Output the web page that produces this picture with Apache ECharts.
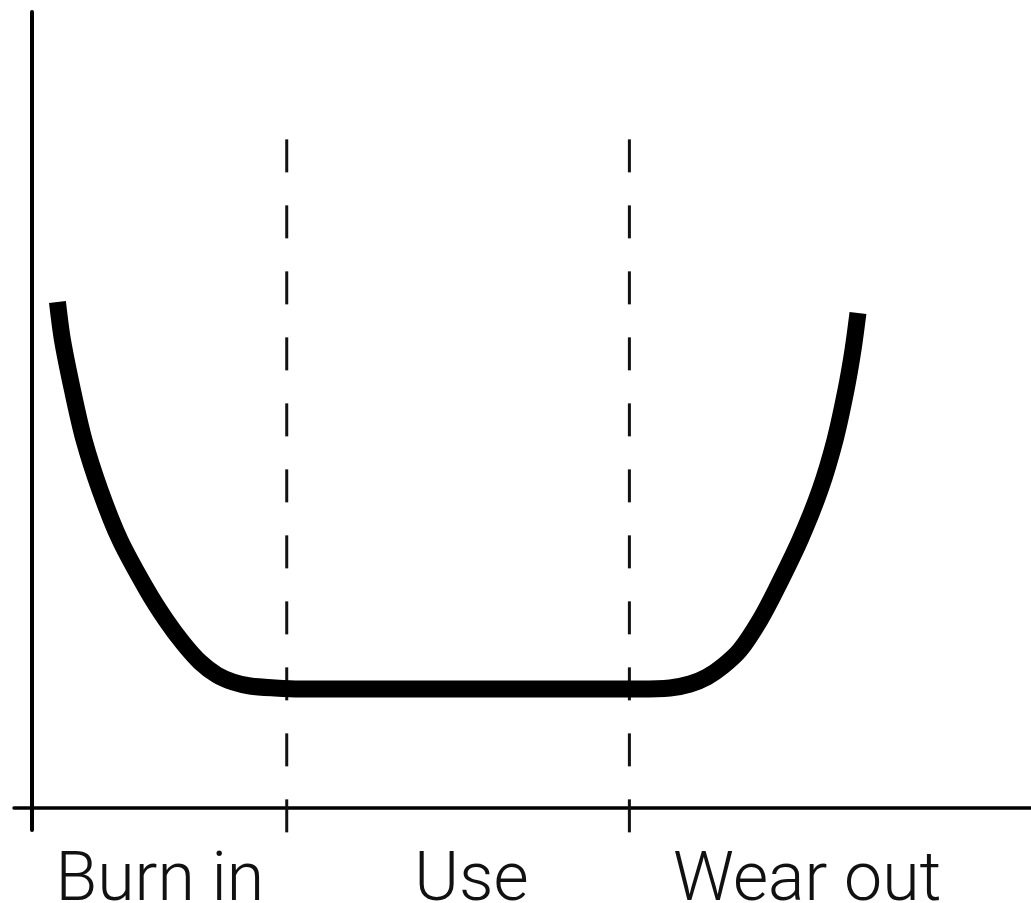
<!DOCTYPE html>
<html>
<head>
<meta charset="utf-8">
<script src="https://cdn.jsdelivr.net/npm/echarts@6/dist/echarts.min.js"></script>
<style>
html,body{margin:0;padding:0;background:#fff;}
#chart{width:1031px;height:903px;}
</style>
</head>
<body>
<div id="chart"></div>
<script>
// Phase labels and their positions along the time axis
const phaseLabels = ['Burn in', 'Use', 'Wear out'];
const phaseLabelPos = [12.8, 44.0, 77.6];
// Phase boundaries (dashed lines)
const phaseBounds = [25.5, 59.8];
const boundTop = 84.0;
const boundBottom = -3.4;
// Bathtub curve (time, failure rate)
const curveTime = [2.55, 3.05, 4.05, 5.21, 6.81, 8.81, 11.51, 13.41, 15.12, 16.82, 18.52, 20.12, 21.82, 24.32, 26.83, 41.84, 60.86, 63.86, 65.87, 67.57, 69.17, 70.87, 72.87, 74.47, 76.88, 78.88, 80.38, 81.48, 82.18, 82.68];
const curveRate = [63.57, 58.79, 52.51, 46.23, 39.95, 33.67, 27.39, 23.62, 20.73, 18.34, 16.71, 15.83, 15.33, 15.08, 14.95, 14.95, 14.95, 15.08, 15.58, 16.46, 17.84, 19.85, 23.62, 27.39, 33.67, 39.95, 46.23, 52.51, 57.54, 62.19];

const chart = echarts.init(document.getElementById('chart'));
const curveData = curveTime.map((t, i) => [t, curveRate[i]]);
const boundSeries = phaseBounds.map(b => ({
  type: 'line',
  data: [[b, boundTop], [b, boundBottom]],
  clip: false,
  symbol: 'none',
  silent: true,
  z: 3,
  lineStyle: { color: '#111', width: 3, type: [33, 33] }
}));

chart.setOption({
  animation: false,
  backgroundColor: '#fff',
  grid: { left: 14, right: 0, top: 12, bottom: 73, outerBoundsMode: 'none' },
  xAxis: {
    type: 'value',
    min: -1.8,
    max: 100,
    axisLine: { show: true, onZero: true, lineStyle: { color: '#000', width: 3.5 } },
    axisTick: { show: false },
    splitLine: { show: false },
    axisLabel: {
      show: true,
      customValues: phaseLabelPos,
      formatter: function (v) {
        const i = phaseLabelPos.findIndex(p => Math.abs(p - v) < 1e-6);
        return i >= 0 ? phaseLabels[i] : '';
      },
      fontFamily: 'Roboto',
      fontWeight: 300,
      fontSize: 68,
      color: '#111',
      margin: 19
    }
  },
  yAxis: {
    type: 'value',
    min: -2.76,
    max: 100,
    axisLine: { show: true, onZero: true, lineStyle: { color: '#000', width: 4 } },
    axisTick: { show: false },
    splitLine: { show: false },
    axisLabel: { show: false }
  },
  series: [
    {
      type: 'line',
      data: curveData,
      smooth: 0.3,
      symbol: 'none',
      z: 4,
      lineStyle: { color: '#000', width: 17, cap: 'butt', join: 'round' }
    }
  ].concat(boundSeries)
});
</script>
</body>
</html>
